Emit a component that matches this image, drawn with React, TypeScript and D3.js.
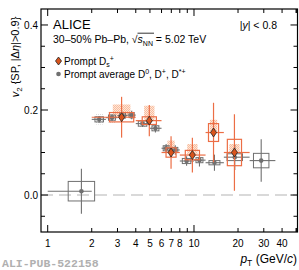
import * as d3 from "d3"
import React from "react"

// prompt Ds+ (orange diamonds)
const dsPt = [3.2, 4.95, 6.97, 9.75, 13.6, 18.9]
const dsLo = [2, 4, 6, 8, 12, 16]
const dsHi = [4, 6, 8, 12, 16, 24]
const dsV2 = [0.183, 0.175, 0.1, 0.094, 0.147, 0.1]
const dsStat = [0.048, 0.037, 0.038, 0.041, 0.07, 0.09]
const dsSyst = [0.011, 0.009, 0.011, 0.011, 0.021, 0.031]
const dsFd = [0.03, 0.035, 0.028, 0.026, 0.03, 0.02]

// prompt average D0, D+, D*+ (gray circles)
const dPt = [1.7, 2.25, 2.75, 3.25, 3.75, 4.45, 5.45, 6.45, 7.45, 8.9, 10.9, 13.8, 19, 28.8]
const dLo = [1, 2, 2.5, 3, 3.5, 4, 5, 6, 7, 8, 10, 12, 16, 24]
const dHi = [2, 2.5, 3, 3.5, 4, 5, 6, 7, 8, 10, 12, 16, 24, 36]
const dV2 = [0.009, 0.178, 0.182, 0.187, 0.188, 0.168, 0.157, 0.11, 0.106, 0.08, 0.082, 0.076, 0.089, 0.081]
const dStat = [0.053, 0.008, 0.008, 0.009, 0.01, 0.008, 0.01, 0.01, 0.011, 0.011, 0.015, 0.019, 0.03, 0.05]
const dSyst = [0.023, 0.006, 0.006, 0.006, 0.006, 0.006, 0.006, 0.006, 0.006, 0.006, 0.006, 0.005, 0.008, 0.017]
const dFd = [0, 0.012, 0.012, 0.01, 0.01, 0.008, 0.008, 0.005, 0.005, 0, 0, 0, 0, 0]

const xTickLabels = [1, 2, 3, 4, 5, 6, 7, 8, 10, 20, 30, 40]
const yTickLabels = [0.0, 0.2, 0.4]

const W = 299
const H = 270
const L = 41, R = 297.5, T = 9, B = 232
const ORANGE = "#ec6e45"
const GRAY = "#707070"
const FONT = "'Liberation Sans', Arial, sans-serif"

export default function App() {
  const x = d3.scaleLog().domain([0.9, 51]).range([L, R])
  const y = d3.scaleLinear().domain([-0.087, 0.4376]).range([B, T])

  // box half width: fraction of the bin in log space
  const boxSpan = (lo: number, hi: number, pt: number, f: number) => {
    const w = (x(hi) - x(lo)) * f / 2
    return [x(pt) - w, x(pt) + w]
  }

  const xTicks: number[] = []
  for (let d = 1; d <= 10; d *= 10) for (let k = 1; k < 10; k++) if (k * d <= 50) xTicks.push(k * d)
  xTicks.push(50)
  const yTicks = d3.range(-0.05, 0.4376, 0.05)

  return (
    <svg width={W} height={H} style={{ position: "absolute", left: 0, top: 0 }} fontFamily={FONT}>
      <defs>
        <pattern id="hatchO" width={2} height={2} patternUnits="userSpaceOnUse">
          <rect width={2} height={2} fill="#fde6d9" />
          <rect width={1} height={1} fill="#f9bc9c" />
          <rect x={1} y={1} width={1} height={1} fill="#f9bc9c" />
        </pattern>
        <pattern id="hatchG" width={2} height={2} patternUnits="userSpaceOnUse">
          <rect width={1} height={1} fill="#d0d0d0" />
        </pattern>
      </defs>
      <rect width={W} height={H} fill="white" />

      {/* zero line */}
      <line x1={L} x2={R} y1={y(0)} y2={y(0)} stroke="#b4b4b4" strokeWidth={1.2} strokeDasharray="12,6" />

      {/* gray hatched */}
      {dPt.map((pt, i) => {
        if (!dFd[i]) return null
        const [a, b] = boxSpan(dLo[i], dHi[i], pt, 0.6)
        return <rect key={"gf" + i} x={a} y={y(dV2[i] + dFd[i])} width={b - a} height={y(dV2[i] - dFd[i]) - y(dV2[i] + dFd[i])} fill="url(#hatchG)" />
      })}

      {/* orange hatched */}
      {dsPt.map((pt, i) => {
        const [a, b] = boxSpan(dsLo[i], dsHi[i], pt, 0.4)
        return <rect key={"of" + i} x={a} y={y(dsV2[i] + dsFd[i])} width={b - a} height={y(dsV2[i]) - y(dsV2[i] + dsFd[i])} fill="url(#hatchO)" />
      })}

      {/* gray points */}
      {dPt.map((pt, i) => {
        const [a, b] = boxSpan(dLo[i], dHi[i], pt, 0.6)
        return (
          <g key={"d" + i} stroke={GRAY} fill="none">
            <rect x={a} y={y(dV2[i] + dSyst[i])} width={b - a} height={y(dV2[i] - dSyst[i]) - y(dV2[i] + dSyst[i])} strokeWidth={1} />
            <line x1={x(dLo[i])} x2={x(dHi[i])} y1={y(dV2[i])} y2={y(dV2[i])} strokeWidth={1.1} />
            <line x1={x(pt)} x2={x(pt)} y1={y(dV2[i] - dStat[i])} y2={y(dV2[i] + dStat[i])} strokeWidth={1.1} />
            <circle cx={x(pt)} cy={y(dV2[i])} r={2.3} fill={GRAY} stroke="none" />
          </g>
        )
      })}

      {/* orange points */}
      {dsPt.map((pt, i) => {
        const [a, b] = boxSpan(dsLo[i], dsHi[i], pt, 0.55)
        const cx = x(pt), cy = y(dsV2[i])
        return (
          <g key={"s" + i} stroke={ORANGE} fill="none">
            <rect x={a} y={y(dsV2[i] + dsSyst[i])} width={b - a} height={y(dsV2[i] - dsSyst[i]) - y(dsV2[i] + dsSyst[i])} strokeWidth={1.2} />
            <line x1={x(dsLo[i])} x2={x(dsHi[i])} y1={cy} y2={cy} strokeWidth={1.2} />
            <line x1={cx} x2={cx} y1={y(dsV2[i] - dsStat[i])} y2={y(dsV2[i] + dsStat[i])} strokeWidth={1.2} />
            <path d={`M${cx},${cy - 4.5}L${cx + 3},${cy}L${cx},${cy + 4.5}L${cx - 3},${cy}Z`} fill="#d9541c" stroke="#222" strokeWidth={0.8} />
          </g>
        )
      })}

      {/* frame */}
      <rect x={L} y={T} width={R - L} height={B - T} fill="none" stroke="black" strokeWidth={1.2} />

      {/* x ticks */}
      {xTicks.map(t => {
        const len = t === 1 || t === 10 ? 7 : 4
        return (
          <g key={"xt" + t} stroke="black" strokeWidth={1}>
            <line x1={x(t)} x2={x(t)} y1={B} y2={B - len} />
            <line x1={x(t)} x2={x(t)} y1={T} y2={T + len} />
          </g>
        )
      })}
      {xTickLabels.map(t => (
        <text key={"xl" + t} x={x(t)} y={247} fontSize={10} textAnchor="middle">{t}</text>
      ))}

      {/* y ticks */}
      {yTicks.map((t, i) => {
        const major = Math.abs(t / 0.2 - Math.round(t / 0.2)) < 1e-6
        const len = major ? 7 : 4
        return (
          <g key={"yt" + i} stroke="black" strokeWidth={1}>
            <line x1={L} x2={L + len} y1={y(t)} y2={y(t)} />
            <line x1={R} x2={R - len} y1={y(t)} y2={y(t)} />
          </g>
        )
      })}
      {yTickLabels.map(t => (
        <text key={"yl" + t} x={38} y={y(t) + 3.6} fontSize={10} textAnchor="end">{t.toFixed(1)}</text>
      ))}

      {/* axis titles */}
      <text x={297} y={263} fontSize={12} textAnchor="end">
        <tspan fontStyle="italic">p</tspan>
        <tspan fontSize={8.5} dy={2.5}>T</tspan>
        <tspan dy={-2.5}> (GeV/</tspan>
        <tspan fontStyle="italic">c</tspan>
        <tspan>)</tspan>
      </text>
      <text transform={`translate(19,57) rotate(-90)`} fontSize={11} textAnchor="middle">
        <tspan fontStyle="italic">v</tspan>
        <tspan fontSize={8} dy={2.5}>2</tspan>
        <tspan dy={-2.5}> {"{"}SP, |Δ</tspan>
        <tspan fontStyle="italic">η</tspan>
        <tspan>|&gt;0.9{"}"}</tspan>
      </text>

      {/* labels */}
      <text x={53} y={29} fontSize={13}>ALICE</text>
      <text x={53} y={43} fontSize={10.5}>
        30–50% Pb–Pb, √
        <tspan fontStyle="italic">s</tspan>
        <tspan fontSize={7} dy={2.5}>NN</tspan>
        <tspan dy={-2.5}> = 5.02 TeV</tspan>
      </text>
      <line x1={137.5} x2={154} y1={33.2} y2={33.2} stroke="black" strokeWidth={0.8} />
      <text x={277} y={29} fontSize={10.5} textAnchor="end">
        |<tspan fontStyle="italic">y</tspan>| &lt; 0.8
      </text>

      {/* legend */}
      <path d="M58.5,57L61.5,61L58.5,65L55.5,61Z" fill="#d9541c" stroke="#222" strokeWidth={0.8} />
      <text x={64} y={64.5} fontSize={10}>
        Prompt D
        <tspan fontSize={7} dy={2.5}>s</tspan>
        <tspan fontSize={7} dy={-6.5}>+</tspan>
      </text>
      <circle cx={58.5} cy={74} r={2.3} fill={GRAY} />
      <text x={64} y={77.5} fontSize={10}>
        Prompt average D
        <tspan fontSize={7} dy={-4}>0</tspan>
        <tspan dy={4}>, D</tspan>
        <tspan fontSize={7} dy={-4}>+</tspan>
        <tspan dy={4}>, D</tspan>
        <tspan fontSize={7} dy={-4}>*+</tspan>
      </text>

      <text x={2} y={267} fontSize={11.5} fontFamily="'Liberation Mono', monospace" fontWeight="bold" fill="#b0b0b0">ALI-PUB-522158</text>
    </svg>
  )
}
